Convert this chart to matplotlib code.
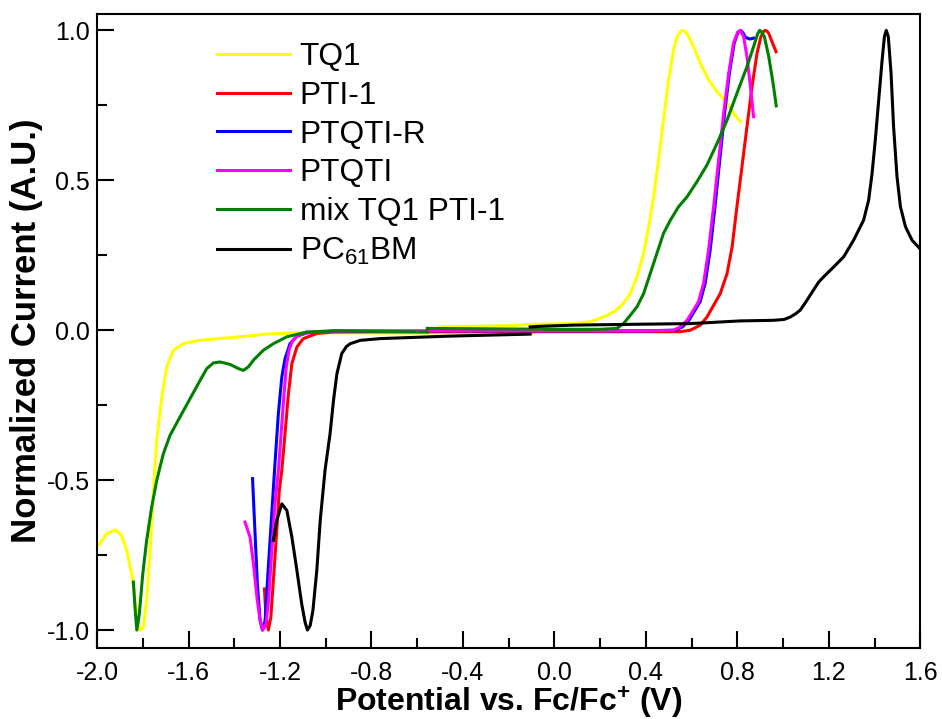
import matplotlib
matplotlib.use("Agg")
import matplotlib.pyplot as plt
from matplotlib.ticker import MultipleLocator, FormatStrFormatter

plt.rcParams['font.family'] = ['Liberation Sans', 'DejaVu Sans']
plt.rcParams['mathtext.fontset'] = 'custom'
plt.rcParams['mathtext.rm'] = 'Liberation Sans'
plt.rcParams['mathtext.it'] = 'Liberation Sans'
plt.rcParams['mathtext.bf'] = 'Liberation Sans:bold'

# reduction scans (left side) and oxidation scans (right side), potential in V
tq1_red_x = [-1.991, -1.958, -1.921, -1.892, -1.870, -1.848, -1.834, -1.819, -1.812, -1.797,
             -1.783, -1.768, -1.754, -1.739, -1.717, -1.695, -1.666, -1.622, -1.549, -1.404,
             -1.258, -1.112, -0.8, -0.5, -0.3, -0.09]
tq1_red_y = [-0.715, -0.679, -0.666, -0.685, -0.735, -0.813, -0.902, -0.980, -1.0, -0.99,
             -0.90, -0.735, -0.545, -0.367, -0.223, -0.122, -0.067, -0.045, -0.033, -0.024,
             -0.013, -0.008, -0.009, -0.009, -0.009, -0.009]
tq1_ox_x = [-0.5, -0.2, -0.062, 0.084, 0.157, 0.215, 0.259, 0.295, 0.332, 0.361, 0.390,
            0.412, 0.434, 0.455, 0.477, 0.499, 0.521, 0.535, 0.550, 0.562, 0.574, 0.590,
            0.608, 0.638, 0.674, 0.711, 0.755, 0.783, 0.813]
tq1_ox_y = [0.011, 0.015, 0.02, 0.022, 0.028, 0.044, 0.061, 0.083, 0.122, 0.178, 0.256,
            0.345, 0.445, 0.568, 0.701, 0.835, 0.935, 0.975, 0.996, 1.0, 0.995, 0.975,
            0.946, 0.890, 0.835, 0.796, 0.757, 0.723, 0.695]

pti_red_x = [-1.268, -1.261, -1.251, -1.240, -1.229, -1.214, -1.203, -1.192, -1.178, -1.163,
             -1.148, -1.126, -1.098, -1.039, -0.966, -0.556]
pti_red_y = [-0.863, -0.957, -1.0, -0.957, -0.835, -0.668, -0.534, -0.467, -0.345, -0.211,
             -0.111, -0.056, -0.028, -0.011, -0.006, -0.005]
pti_ox_x = [-0.556, 0.4, 0.55, 0.594, 0.638, 0.667, 0.696, 0.725, 0.755, 0.777, 0.798,
            0.820, 0.842, 0.864, 0.886, 0.903, 0.914, 0.922, 0.930, 0.937, 0.951, 0.969]
pti_ox_y = [-0.005, -0.005, -0.005, 0.0, 0.017, 0.044, 0.083, 0.122, 0.189, 0.278, 0.412,
            0.545, 0.679, 0.812, 0.924, 0.979, 0.996, 1.0, 0.997, 0.99, 0.963, 0.929]

ptqtir_red_x = [-1.320, -1.309, -1.299, -1.287, -1.277, -1.265, -1.251, -1.236, -1.221, -1.207,
                -1.192, -1.178, -1.156, -1.126, -1.083, -0.966, -0.556]
ptqtir_red_y = [-0.495, -0.679, -0.846, -0.968, -1.0, -0.968, -0.790, -0.612, -0.434, -0.278,
                -0.156, -0.095, -0.045, -0.020, -0.009, -0.003, -0.003]
ptqtir_ox_x = [-0.556, 0.4, 0.53, 0.56, 0.588, 0.615, 0.637, 0.659, 0.681, 0.702, 0.723,
               0.744, 0.765, 0.786, 0.803, 0.815, 0.826, 0.835, 0.854, 0.871]
ptqtir_ox_y = [-0.002, -0.002, 0.0, 0.011, 0.033, 0.067, 0.095, 0.156, 0.267, 0.412, 0.568,
               0.723, 0.857, 0.957, 0.994, 1.0, 0.99, 0.977, 0.971, 0.974]

ptqti_red_x = [-1.353, -1.331, -1.316, -1.301, -1.287, -1.275, -1.261, -1.250, -1.237, -1.222,
               -1.207, -1.195, -1.183, -1.172, -1.160, -1.145, -1.12, -1.08, -0.966, -0.556]
ptqti_red_y = [-0.640, -0.690, -0.779, -0.890, -0.968, -1.0, -0.98, -0.90, -0.75, -0.58,
               -0.467, -0.345, -0.22, -0.12, -0.065, -0.035, -0.017, -0.008, -0.003, -0.003]
ptqti_ox_x = [-0.556, 0.4, 0.521, 0.550, 0.580, 0.608, 0.630, 0.652, 0.674, 0.696, 0.718,
              0.740, 0.762, 0.783, 0.801, 0.813, 0.827, 0.842, 0.857, 0.871]
ptqti_ox_y = [-0.002, -0.002, 0.0, 0.011, 0.033, 0.067, 0.095, 0.156, 0.267, 0.412, 0.568,
              0.723, 0.857, 0.957, 0.994, 1.0, 0.979, 0.913, 0.812, 0.712]

mix_red_x = [-1.841, -1.834, -1.826, -1.815, -1.800, -1.783, -1.761, -1.739, -1.710, -1.681,
             -1.637, -1.593, -1.549, -1.520, -1.491, -1.462, -1.418, -1.382, -1.360, -1.338,
             -1.316, -1.273, -1.229, -1.170, -1.083, -0.966, -0.556]
mix_red_y = [-0.840, -0.924, -1.0, -0.946, -0.813, -0.701, -0.590, -0.501, -0.412, -0.351,
             -0.289, -0.228, -0.167, -0.128, -0.109, -0.106, -0.114, -0.128, -0.134, -0.122,
             -0.100, -0.067, -0.045, -0.022, -0.006, -0.002, -0.006]
mix_ox_x = [-0.556, 0.0, 0.2, 0.273, 0.302, 0.332, 0.361, 0.390, 0.419, 0.448, 0.477, 0.507,
            0.543, 0.580, 0.623, 0.667, 0.711, 0.755, 0.798, 0.842, 0.871, 0.888, 0.897,
            0.906, 0.918, 0.937, 0.956, 0.970]
mix_ox_y = [0.006, 0.003, 0.003, 0.006, 0.022, 0.05, 0.078, 0.122, 0.189, 0.256, 0.323, 0.367,
            0.412, 0.445, 0.495, 0.551, 0.623, 0.701, 0.790, 0.879, 0.946, 0.987, 1.0,
            0.995, 0.979, 0.913, 0.824, 0.748]

pcbm_red_x = [-1.229, -1.214, -1.192, -1.170, -1.148, -1.126, -1.105, -1.090, -1.080, -1.068,
              -1.056, -1.039, -1.024, -1.003, -0.981, -0.966, -0.951, -0.930, -0.910, -0.893,
              -0.850, -0.762, -0.470, -0.106]
pcbm_red_y = [-0.701, -0.634, -0.579, -0.601, -0.690, -0.801, -0.913, -0.975, -1.0, -0.985,
              -0.935, -0.801, -0.634, -0.467, -0.345, -0.234, -0.145, -0.078, -0.055, -0.045,
              -0.034, -0.028, -0.020, -0.013]
pcbm_ox_x = [-0.106, -0.062, 0.084, 0.375, 0.594, 0.813, 0.959, 1.005, 1.031, 1.055, 1.075,
             1.100, 1.133, 1.155, 1.177, 1.221, 1.265, 1.308, 1.352, 1.374, 1.389, 1.403,
             1.418, 1.433, 1.443, 1.451, 1.460, 1.472, 1.483, 1.498, 1.513, 1.535, 1.564, 1.597]
pcbm_ox_y = [0.011, 0.013, 0.017, 0.020, 0.022, 0.031, 0.033, 0.036, 0.044, 0.055, 0.067,
             0.095, 0.134, 0.160, 0.178, 0.211, 0.245, 0.30, 0.367, 0.434, 0.523, 0.634,
             0.768, 0.902, 0.979, 1.0, 0.979, 0.857, 0.679, 0.512, 0.412, 0.345, 0.30, 0.273]

series = [
    ('TQ1', '#ffff00', tq1_red_x, tq1_red_y, tq1_ox_x, tq1_ox_y),
    ('PTI-1', '#ff0000', pti_red_x, pti_red_y, pti_ox_x, pti_ox_y),
    ('PTQTI-R', '#0000ff', ptqtir_red_x, ptqtir_red_y, ptqtir_ox_x, ptqtir_ox_y),
    ('PTQTI', '#ff00ff', ptqti_red_x, ptqti_red_y, ptqti_ox_x, ptqti_ox_y),
    ('mix TQ1 PTI-1', '#008000', mix_red_x, mix_red_y, mix_ox_x, mix_ox_y),
    ('PC$_{61}$BM', '#000000', pcbm_red_x, pcbm_red_y, pcbm_ox_x, pcbm_ox_y),
]

fig = plt.figure(figsize=(9.42, 7.19), dpi=100)
ax = fig.add_axes([0.103, 0.0987, 0.874, 0.882])

for name, col, rx, ry, ox, oy in series:
    ax.plot(rx, ry, color=col, lw=2.2, label=name, solid_joinstyle='round')
    ax.plot(ox, oy, color=col, lw=2.2, solid_joinstyle='round')

ax.set_xlim(-2.0, 1.6)
ax.set_ylim(-1.06, 1.055)
ax.xaxis.set_major_locator(MultipleLocator(0.4))
ax.xaxis.set_minor_locator(MultipleLocator(0.2))
ax.yaxis.set_major_locator(MultipleLocator(0.5))
ax.yaxis.set_minor_locator(MultipleLocator(0.25))
ax.xaxis.set_major_formatter(FormatStrFormatter('%.1f'))
ax.yaxis.set_major_formatter(FormatStrFormatter('%.1f'))
ax.tick_params(which='both', direction='in', width=1.5, labelsize=18)
ax.tick_params(which='major', length=12)
ax.tick_params(which='minor', length=7)
ax.tick_params(axis='x', pad=9)
ax.tick_params(axis='y', pad=5)
for s in ax.spines.values():
    s.set_linewidth(1.5)

ax.set_xlabel(r'Potential vs. Fc/Fc$^{\mathbf{+}}$ (V)', fontsize=23, fontweight='bold', labelpad=0)
ax.set_ylabel('Normalized Current (A.U.)', fontsize=25, fontweight='bold', labelpad=3)

handles, labels = ax.get_legend_handles_labels()
ax.legend(handles, labels, loc='upper left', bbox_to_anchor=(0.146, 0.956), frameon=False,
          fontsize=22.8, handlelength=2.3, handletextpad=0.3, labelspacing=0.28,
          borderpad=0, borderaxespad=0)

fig.savefig('out.png', dpi=100)
